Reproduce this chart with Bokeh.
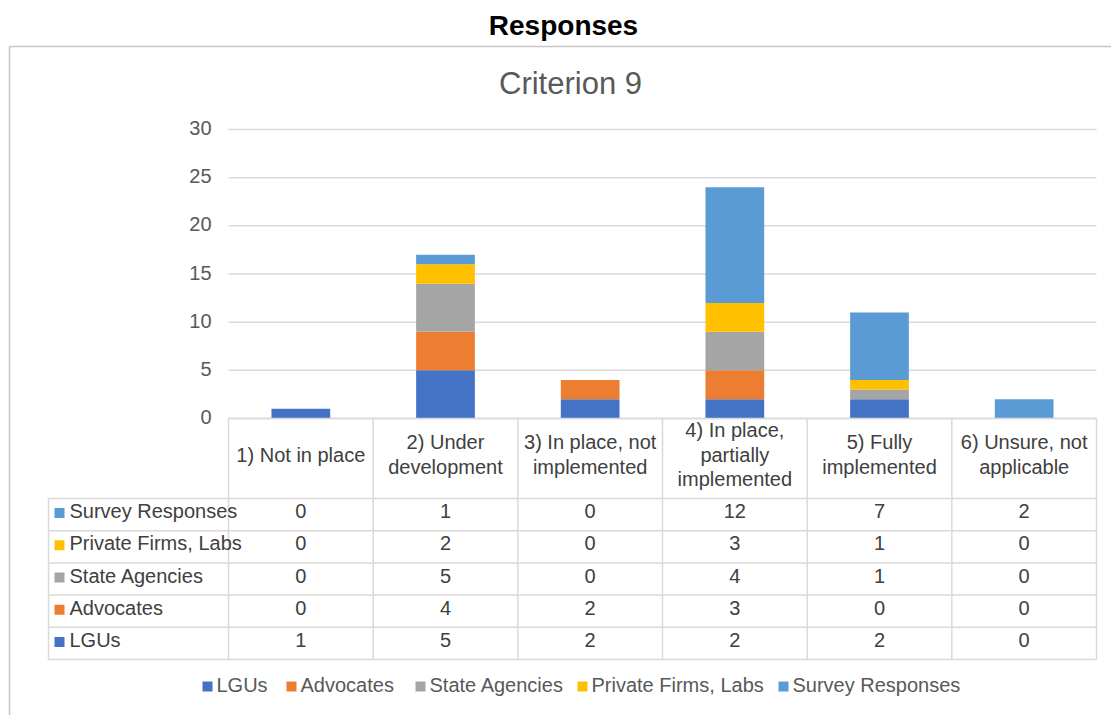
from bokeh.plotting import figure
from bokeh.models import ColumnDataSource, Range1d
from bokeh.core.properties import value
from bokeh.embed import file_html
from bokeh.resources import INLINE

# ---------------- data ----------------
page_title = "Responses"
chart_title = "Criterion 9"
categories = [
    "1) Not in place",
    "2) Under\ndevelopment",
    "3) In place, not\nimplemented",
    "4) In place,\npartially\nimplemented",
    "5) Fully\nimplemented",
    "6) Unsure, not\napplicable",
]
series_names = ["LGUs", "Advocates", "State Agencies", "Private Firms, Labs", "Survey Responses"]
lgus = [1, 5, 2, 2, 2, 0]
advocates = [0, 4, 2, 3, 0, 0]
state_agencies = [0, 5, 0, 4, 1, 0]
private_firms = [0, 2, 0, 3, 1, 0]
survey_responses = [0, 1, 0, 12, 7, 2]
series_colors = ["#4472C4", "#ED7D31", "#A5A5A5", "#FFC000", "#5B9BD5"]
y_ticks = [0, 5, 10, 15, 20, 25, 30]

# ---------------- layout (pixels) ----------------
W, H = 1111, 715
PLOT_L, PLOT_R = 228, 1096
Y0_PX, YTOP_PX = 418, 129
PX_PER_UNIT = (Y0_PX - YTOP_PX) / 30.0
COL_W = (PLOT_R - PLOT_L) / 6.0
TABLE_L = 48
HEADER_TOP = 418
ROW_TOP = 498
ROW_H = 32.2
GRID_COLOR = "#d9d9d9"
FONT = "Liberation Sans"


def xd(px):
    return (px - PLOT_L) / COL_W - 0.5


def yd(py):
    return (Y0_PX - py) / PX_PER_UNIT


p = figure(width=W, height=H, x_range=Range1d(xd(0), xd(W)), y_range=Range1d(yd(H), yd(0)),
           output_backend="svg", toolbar_location=None, x_axis_type=None, y_axis_type=None,
           min_border=0, min_border_left=0, min_border_right=0, min_border_top=0,
           min_border_bottom=0, outline_line_color=None)
p.grid.visible = False
p.background_fill_color = "white"
p.border_fill_color = "white"

# outer chart box (left and top edges visible)
p.segment(x0=[xd(9), xd(9)], y0=[yd(46), yd(46)], x1=[xd(9), xd(W + 20)], y1=[yd(H + 20), yd(46)],
          line_color="#c6c6c6", line_width=1.5)

# titles
p.text(x=[xd(563)], y=[yd(25)], text=[page_title], text_font=value(FONT), text_font_size="28px",
       text_font_style="bold", text_color="black", text_align="center", text_baseline="middle")
p.text(x=[xd(570)], y=[yd(83)], text=[chart_title], text_font=value(FONT), text_font_size="31px",
       text_color="#595959", text_align="center", text_baseline="middle")

# horizontal grid lines + y tick labels
n = len(y_ticks)
p.segment(x0=[xd(PLOT_L)] * n, y0=y_ticks, x1=[xd(PLOT_R)] * n, y1=y_ticks,
          line_color=GRID_COLOR, line_width=1.5)
p.text(x=[xd(211)] * n, y=[t + 1.5 / PX_PER_UNIT for t in y_ticks], text=[str(t) for t in y_ticks],
       text_font=value(FONT), text_font_size="20px", text_color="#595959", text_align="right",
       text_baseline="middle")

# stacked bars
xs = list(range(len(categories)))
keys = ["lgus", "advocates", "state", "private", "survey"]
src = ColumnDataSource(dict(x=xs, lgus=lgus, advocates=advocates, state=state_agencies,
                            private=private_firms, survey=survey_responses))
p.vbar_stack(keys, x="x", width=0.406, source=src, color=series_colors, line_color=None)

# ---------------- data table ----------------
nrows = len(series_names)
row_edges = [ROW_TOP + i * ROW_H for i in range(nrows + 1)]
# horizontal table lines
hx0 = [xd(PLOT_L)] + [xd(TABLE_L)] * len(row_edges)
hx1 = [xd(PLOT_R)] * (len(row_edges) + 1)
hy = [yd(HEADER_TOP)] + [yd(r) for r in row_edges]
p.segment(x0=hx0, y0=hy, x1=hx1, y1=hy, line_color=GRID_COLOR, line_width=1.5)
# vertical table lines
col_edges = [PLOT_L + i * COL_W for i in range(len(categories) + 1)]
vx = [xd(TABLE_L)] + [xd(c) for c in col_edges]
vy0 = [yd(ROW_TOP)] + [yd(HEADER_TOP)] * len(col_edges)
vy1 = [yd(row_edges[-1])] * (len(col_edges) + 1)
p.segment(x0=vx, y0=vy0, x1=vx, y1=vy1, line_color=GRID_COLOR, line_width=1.5)

# header labels (categories)
hx, hyy, ht = [], [], []
LINE_H = 24.5
for i, cat in enumerate(categories):
    lines = cat.split("\n")
    for k, ln in enumerate(lines):
        hx.append(i)
        hyy.append(yd(454 + (k - (len(lines) - 1) / 2.0) * LINE_H))
        ht.append(ln)
p.text(x=hx, y=hyy, text=ht, text_font=value(FONT), text_font_size="20px", text_color="#404040",
       text_align="center", text_baseline="middle")

# table rows: top row = last series
series_values = [lgus, advocates, state_agencies, private_firms, survey_responses]
tx, ty, tt = [], [], []
lab_y, lab_t, lab_c = [], [], []
for r in range(nrows):
    s = nrows - 1 - r
    cy = yd((row_edges[r] + row_edges[r + 1]) / 2.0 - 3.5)
    lab_y.append(cy)
    lab_t.append(series_names[s])
    lab_c.append(series_colors[s])
    for i, v in enumerate(series_values[s]):
        tx.append(i)
        ty.append(cy)
        tt.append(str(v))
p.text(x=tx, y=ty, text=tt, text_font=value(FONT), text_font_size="20px", text_color="#404040",
       text_align="center", text_baseline="middle")
p.scatter(x=[xd(59)] * nrows, y=[c - 2 / PX_PER_UNIT for c in lab_y], marker="square", size=10,
          color=lab_c, line_color=None)
p.text(x=[xd(69)] * nrows, y=lab_y, text=lab_t, text_font=value(FONT), text_font_size="20px",
       text_color="#404040", text_align="left", text_baseline="middle")

# ---------------- legend ----------------
leg_sq_left = [202, 286, 415, 577, 778]
leg_y = 684
p.scatter(x=[xd(v + 5) for v in leg_sq_left], y=[yd(leg_y + 2)] * len(series_names), marker="square",
          size=10, color=series_colors, line_color=None)
p.text(x=[xd(v + 14) for v in leg_sq_left], y=[yd(leg_y)] * len(series_names), text=series_names,
       text_font=value(FONT), text_font_size="20px", text_color="#595959", text_align="left",
       text_baseline="middle")

open("out.html", "w").write(file_html(p, INLINE))
